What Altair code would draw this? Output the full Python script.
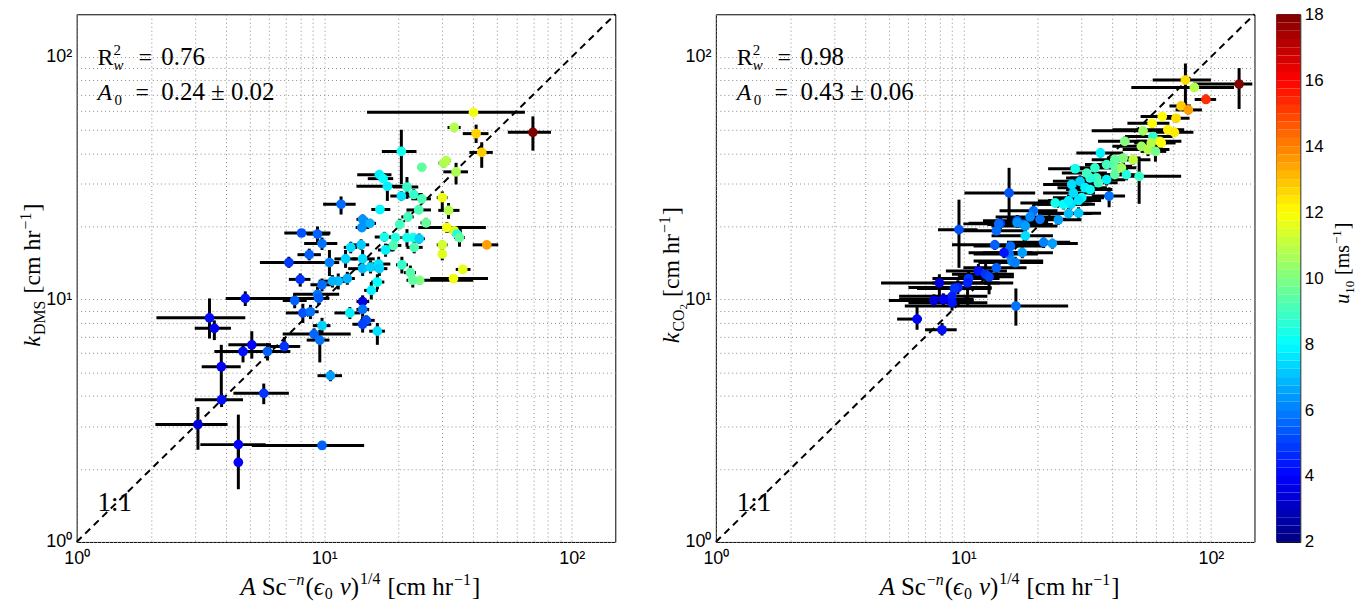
import altair as alt
import pandas as pd
import numpy as np

SERIF = "Liberation Serif"
SANS = "Liberation Sans"

# ---------------- DMS panel (left) ----------------
dms_x = [40.1, 33.5, 41.1, 69.7, 43.3, 20.5, 24.8, 30.4, 31.1, 34.1, 16.7, 17.3, 18.0, 20.5, 21.6, 23.0, 24.8, 30.0, 31.8, 16.8,
         24.1, 21.8, 25.8, 11.7, 14.3, 14.2, 15.3, 20.2, 31.3, 33.5, 34.4, 35.2, 45.4, 8.1, 9.4, 9.8, 17.5, 19.4, 21.6, 22.9,
         24.2, 19.0, 23.1, 17.7, 30.0, 30.0, 8.7, 7.2, 10.5, 12.2, 12.8, 14.1, 14.3, 14.3, 15.4, 16.6, 16.7, 20.6, 22.3, 24.3,
         22.8, 33.3, 36.3, 16.4, 15.5, 11.4, 10.8, 12.4, 9.8, 9.4, 9.5, 7.6, 4.8, 14.3, 14.3, 12.7, 14.8, 14.3, 16.4, 9.8,
         9.1, 9.6, 6.9, 10.6, 8.2, 8.8, 8.0, 3.44, 3.6, 5.1, 4.7, 5.9, 3.84, 3.85, 5.7, 3.09, 4.5, 9.8, 4.5]
dms_y = [59.1, 51.2, 48.3, 48.9, 40.4, 40.8, 35.1, 36.5, 37.4, 33.6, 32.7, 31.5, 29.3, 26.7, 29.1, 27.1, 26.0, 26.3, 23.3, 23.5,
         23.4, 21.9, 20.7, 24.7, 21.4, 19.8, 20.6, 20.4, 19.8, 19.2, 18.6, 18.0, 16.8, 18.8, 18.6, 17.0, 18.1, 18.0, 18.0, 18.0,
         17.8, 16.7, 16.4, 16.0, 16.8, 15.4, 15.3, 14.2, 14.2, 14.7, 16.4, 16.8, 14.7, 13.4, 13.6, 14.0, 13.4, 13.9, 12.9, 12.0,
         12.0, 12.2, 13.3, 11.8, 10.9, 11.9, 11.9, 12.2, 11.5, 10.5, 10.1, 9.9, 10.1, 9.8, 9.1, 8.8, 8.2, 7.9, 7.4, 7.8,
         7.2, 6.8, 6.4, 4.85, 8.8, 8.9, 12.1, 8.4, 7.6, 6.5, 6.1, 6.1, 5.28, 3.86, 4.1, 3.05, 2.52, 2.5, 2.13]
dms_xlo = [14.9, 31.5, 36.3, 55.2, 38.6, 17.1, 23.8, 29.0, 30.0, 30.3, 13.6, 15.0, 13.5, 18.5, 19.0, 21.0, 22.5, 28.5, 28.9, 15.5,
           21.5, 20.5, 24.5, 9.9, 13.5, 13.4, 14.5, 19.5, 24.0, 31.0, 33.0, 33.5, 39.8, 6.9, 8.5, 8.3, 16.0, 18.4, 20.5, 21.5,
           23.0, 17.5, 21.5, 16.5, 28.5, 29.0, 7.8, 5.5, 9.5, 11.0, 12.0, 13.0, 13.0, 12.5, 14.0, 15.0, 15.5, 19.5, 21.0, 22.0,
           21.5, 26.8, 34.0, 15.5, 14.5, 10.5, 9.5, 11.5, 8.8, 7.5, 8.5, 6.8, 4.0, 13.5, 13.5, 11.0, 14.0, 13.0, 15.2, 9.0,
           6.8, 8.5, 6.0, 9.4, 7.0, 8.0, 7.2, 2.1, 3.0, 4.1, 3.6, 5.3, 3.2, 3.0, 4.3, 2.08, 3.16, 5.1, 4.4]
dms_xhi = [64.7, 35.6, 46.1, 82.5, 48.0, 23.6, 25.8, 32.0, 32.5, 38.1, 18.7, 19.0, 21.5, 23.5, 24.0, 25.0, 27.0, 31.5, 35.2, 18.5,
           27.0, 23.0, 27.0, 13.4, 15.0, 15.2, 16.2, 21.0, 45.0, 36.0, 36.0, 37.0, 50.5, 10.6, 10.5, 11.3, 19.0, 20.4, 23.0, 25.0,
           25.5, 20.5, 25.0, 19.0, 31.5, 31.0, 9.7, 9.8, 11.5, 13.5, 13.6, 15.2, 16.0, 16.0, 17.0, 18.5, 18.0, 21.8, 23.5, 40.0,
           24.0, 45.9, 39.0, 17.5, 16.5, 12.3, 12.5, 13.3, 10.8, 11.5, 10.5, 8.5, 9.2, 15.2, 15.2, 14.0, 16.0, 15.5, 17.6, 10.6,
           12.8, 10.5, 8.0, 11.8, 9.0, 9.5, 8.8, 4.8, 4.2, 6.1, 7.3, 6.6, 4.6, 4.7, 7.2, 4.07, 5.8, 14.5, 4.6]
dms_ylo = [57.0, 49.0, 44.2, 41.1, 34.9, 29.9, 34.0, 35.0, 36.0, 29.8, 31.5, 30.5, 25.5, 25.5, 26.0, 26.0, 25.0, 23.5, 21.5, 22.5,
           22.5, 21.0, 19.8, 22.4, 20.5, 19.0, 19.8, 19.5, 18.8, 18.5, 17.5, 16.5, 16.3, 18.2, 17.0, 16.0, 17.3, 17.2, 16.5, 17.3,
           17.0, 15.8, 15.5, 15.0, 16.0, 14.5, 14.5, 13.5, 12.5, 13.5, 15.5, 16.0, 13.5, 12.5, 12.8, 13.0, 12.5, 12.8, 12.0, 11.5,
           11.2, 11.7, 12.8, 11.0, 10.0, 11.0, 11.2, 11.5, 10.8, 9.8, 9.5, 9.2, 9.4, 9.2, 8.5, 8.3, 7.8, 7.3, 6.5, 7.2,
           6.8, 5.5, 6.0, 4.6, 8.0, 8.3, 11.3, 6.9, 6.8, 5.7, 5.5, 5.6, 3.85, 3.6, 3.7, 2.4, 2.2, 2.45, 1.65]
dms_yhi = [61.0, 53.0, 52.6, 56.9, 44.5, 50.1, 36.0, 38.0, 39.0, 36.6, 34.0, 33.0, 30.5, 28.0, 32.0, 28.5, 27.0, 27.9, 25.0, 24.5,
           24.5, 23.0, 21.7, 26.6, 22.4, 20.8, 21.5, 21.5, 20.8, 20.0, 19.5, 19.5, 17.3, 19.4, 20.0, 18.0, 19.0, 18.8, 19.5, 18.8,
           18.7, 17.5, 17.3, 17.0, 17.5, 16.3, 16.2, 15.0, 16.0, 16.0, 17.3, 17.7, 16.0, 14.3, 14.5, 15.0, 14.3, 15.0, 13.8, 12.5,
           12.8, 12.7, 13.8, 12.7, 11.8, 12.8, 12.6, 13.0, 12.2, 11.3, 10.7, 10.6, 10.8, 10.4, 9.7, 9.3, 8.6, 8.5, 8.0, 8.4,
           7.6, 7.5, 7.0, 5.1, 9.6, 9.5, 12.8, 10.1, 8.2, 7.4, 6.5, 6.6, 6.5, 4.1, 4.5, 3.6, 3.35, 2.55, 2.5]
dms_u = [11.8, 10.8, 12.7, 18.0, 12.8, 8.3, 9.5, 10.6, 10.8, 10.7, 7.8, 8.0, 7.8, 7.6, 8.8, 8.8, 9.2, 11.7, 10.8, 7.9,
         9.2, 9.0, 9.6, 5.7, 6.3, 6.3, 6.8, 9.0, 11.8, 11.5, 8.5, 9.5, 13.5, 5.3, 5.5, 5.8, 8.3, 8.5, 8.3, 8.3,
         7.3, 9.2, 9.2, 7.8, 11.3, 11.5, 5.5, 4.9, 6.0, 7.3, 7.5, 7.2, 7.5, 7.0, 7.3, 7.6, 7.3, 8.8, 9.3, 10.0,
         9.5, 11.8, 11.6, 8.0, 7.8, 7.0, 6.8, 6.8, 5.7, 5.8, 5.5, 5.5, 4.3, 3.5, 5.8, 7.8, 5.2, 5.0, 7.5, 7.3,
         5.6, 5.8, 4.8, 6.5, 5.3, 5.8, 4.8, 4.2, 3.8, 4.0, 4.2, 5.5, 4.0, 4.2, 4.8, 3.5, 4.0, 5.5, 4.0]

# ---------------- CO2 panel (right) ----------------
co2_x = [130, 78.9, 85.7, 95.5, 75.8, 81.1, 63.6, 72.3, 57.9, 67.0, 71.2, 53.2, 58.3, 62.1, 52.4, 55.7, 59.7, 63.0, 57.4, 44.9,
         48.5, 44.2, 40.9, 40.9, 43.5, 45.6, 40.9, 51.3, 35.8, 28.3, 34.0, 37.9, 34.5, 37.9, 35.1, 32.5, 31.5, 27.4, 29.6, 31.0,
         32.5, 27.8, 30.1, 29.2, 27.2, 38.8, 23.5, 25.4, 26.6, 26.6, 29.2, 24.2, 19.2, 18.6, 20.4, 16.5, 17.5, 14.1, 15.3, 13.9,
         13.6, 13.4, 15.5, 17.3, 15.3, 15.7, 16.2, 14.6, 17.8, 16.5, 17.8, 21.1, 22.9, 9.6, 8.0, 10.5, 11.5, 12.3, 12.7, 13.6,
         9.5, 9.2, 10.4, 9.0, 9.0, 8.3, 7.6, 6.5, 8.2, 16.3]
co2_y = [77.3, 80.3, 74.8, 66.8, 62.8, 60.5, 56.8, 55.9, 53.3, 50.1, 48.9, 49.6, 47.0, 44.9, 42.8, 41.5, 40.8, 44.2, 44.2, 44.9,
         37.7, 38.3, 37.7, 35.4, 34.9, 32.7, 32.7, 32.2, 40.2, 34.6, 34.9, 36.0, 31.7, 31.2, 30.3, 31.7, 33.2, 29.8, 30.7, 28.9,
         28.4, 27.5, 26.3, 25.6, 24.7, 26.7, 25.0, 24.7, 25.5, 22.6, 22.7, 21.3, 23.2, 21.9, 21.4, 21.1, 20.4, 20.6, 27.5, 20.5,
         19.2, 16.8, 16.6, 15.6, 15.4, 14.4, 14.2, 15.6, 18.3, 20.7, 20.1, 17.2, 17.0, 19.4, 11.7, 12.2, 13.1, 12.7, 12.4, 13.5,
         11.2, 11.1, 11.7, 10.3, 9.7, 10.0, 9.9, 8.3, 7.5, 9.4]
co2_xlo = [85, 58.2, 47.7, 86, 68, 72, 52, 64, 46, 40, 60, 33, 45, 50, 40, 44, 52, 55, 49, 35,
           40, 38, 33, 34, 35, 38, 34, 44.2, 28.6, 22, 27, 31, 27, 31, 28, 26, 25, 21, 23, 24,
           26, 21, 23, 22, 20, 33, 17, 19, 20, 20, 22, 18, 14, 13.5, 15, 12, 12.5, 10.5, 10.1, 10,
           9.5, 9, 11, 12, 11, 11, 11.5, 10.5, 13, 12, 13, 15, 17, 7.9, 4.65, 7.5, 8.5, 9, 9.5, 10,
           6, 6.5, 7.5, 5.5, 6, 5.5, 5, 5.4, 7.0, 5.8]
co2_xhi = [147, 100, 124, 105, 83, 92, 75, 82, 68, 78, 85, 65, 70, 76, 64, 68, 66, 72, 66, 55,
           57, 52, 48, 48, 50, 52, 48, 75.8, 44.2, 34, 41, 45, 42, 45, 42, 39, 38, 34, 36, 38,
           40, 34, 37, 36, 34, 45, 29, 32, 33, 33, 36, 30, 24, 24, 26, 22, 23, 19, 19.5, 18,
           18, 18, 21, 23, 20, 21, 21, 19, 23, 22, 24, 27, 29, 11.4, 15.9, 14, 15, 16, 16, 18,
           13, 13, 14, 12.5, 12.5, 11, 11, 6.8, 9.4, 26.5]
co2_ylo = [61, 62, 72, 64, 60.5, 58, 54.5, 53.5, 51, 48, 47, 47.5, 45, 43, 41, 39, 37, 42.5, 42.5, 43,
           36, 36.5, 36, 33.5, 33, 31, 31, 24.8, 38.5, 33, 33.5, 34.5, 30, 29.5, 28.5, 30, 31.5, 28.5, 29, 27.5,
           27, 26, 25, 24.5, 23.5, 24, 24, 23.5, 24.5, 21.5, 21.5, 20.3, 22, 21, 20.3, 20, 19.5, 19.5, 20.4, 19.5,
           18.2, 16, 15.8, 14.8, 14.6, 13.7, 13.4, 14.8, 17.4, 19.7, 19, 16.3, 16.2, 13.5, 10.2, 11.2, 12.3, 11.5, 10.5, 12.5,
           10.5, 10.4, 9.5, 9.6, 9, 9.4, 9.3, 7.5, 7.1, 7.8]
co2_yhi = [90, 94, 78, 70, 65, 63, 59, 58, 55.5, 52, 51, 51.5, 49, 47, 44.5, 44, 44, 46, 46, 47,
           39.5, 40, 39.5, 37, 36.5, 34.5, 34.5, 37.2, 42, 36, 36.5, 37.5, 33.5, 33, 32, 33.5, 35, 31, 32.5, 30.5,
           30, 29, 27.5, 27, 26, 29, 26, 26, 27, 23.8, 24, 22.3, 24.5, 23, 22.5, 22.3, 21.5, 21.7, 34.9, 21.5,
           20.3, 17.6, 17.4, 16.4, 16.2, 15.2, 15, 16.4, 19.2, 21.7, 21.2, 18, 17.8, 25.8, 12.7, 13.2, 14, 14, 13.3, 14.5,
           12, 11.8, 12.5, 11, 10.4, 10.6, 10.5, 9.3, 8.0, 11.1]
co2_u = [18.0, 12.5, 10.8, 15.3, 12.8, 13.5, 12.0, 12.5, 12.0, 12.2, 12.3, 10.5, 8.8, 11.5, 10.5, 10.8, 9.8, 12.0, 10.8, 10.0,
         11.0, 10.0, 9.5, 9.5, 10.5, 8.5, 9.5, 8.8, 7.8, 8.3, 8.8, 9.0, 9.0, 7.8, 9.0, 8.5, 9.0, 7.5, 7.3, 7.8,
         8.0, 7.5, 8.0, 7.6, 7.5, 5.8, 8.3, 8.0, 7.8, 7.0, 7.2, 6.5, 5.8, 6.2, 5.8, 5.5, 5.8, 4.8, 5.3, 5.7,
         5.7, 5.5, 5.7, 6.5, 5.8, 6.2, 6.0, 4.3, 7.5, 6.3, 6.5, 6.0, 6.5, 5.3, 3.5, 4.8, 4.3, 4.8, 5.0, 5.5,
         4.5, 4.8, 4.5, 4.5, 4.3, 3.8, 3.5, 4.0, 4.2, 5.8]

# jet colormap (piecewise) and colourbar levels
jet_domain = [2, 4, 8, 12, 16, 18]
jet_range = ["#00007f", "#0000ff", "#00ffff", "#ffff00", "#ff0000", "#7f0000"]
cbar_edges = list(np.linspace(2, 18, 65))
cbar_ticks = [2, 4, 6, 8, 10, 12, 14, 16, 18]
log_ticks = [1, 2, 3, 4, 5, 6, 7, 8, 9, 10, 20, 30, 40, 50, 60, 70, 80, 90, 100]
diag_vals = [1, 150]

W, H = 541, 530

color_scale = alt.Scale(domain=jet_domain, range=jet_range, interpolate="rgb")

# Times-like advance widths (per 1000 em)
TW = {' ': 250, '[': 333, ']': 333, 'c': 444, 'm': 778, 'h': 500, 'r': 333, 'k': 444, 'D': 722, 'M': 889,
      'S': 556, 'C': 667, 'O': 722, '−': 564, '=': 564, '.': 250, '±': 549, 'A': 611, 'R': 667, 'w': 667,
      'u': 500, ':': 278, 'ϵ': 439, 'ν': 444, '(': 333, ')': 333, 'n': 500, '/': 278, 's': 389}


def tw(s, size):
    return sum(TW.get(ch, 500) for ch in s) * size / 1000.0


def txt(text, x, y, size, style="normal", angle=0):
    return alt.Chart(pd.DataFrame({"t": [text]})).mark_text(
        align="left", baseline="alphabetic", font=SERIF, fontSize=size,
        fontStyle=style, angle=angle, color="black"
    ).encode(x=alt.value(x), y=alt.value(y), text="t:N")


def rich(pieces, x0, y0, angle=0):
    """pieces: (text, size, style, shift, gap_before)"""
    out = []
    pos = 0.0
    for text, size, style, shift, gap in pieces:
        pos += gap
        if angle == 0:
            x, y = x0 + pos, y0 - shift
        else:
            x, y = x0 - shift, y0 - pos
        out.append(txt(text, x, y, size, style, angle))
        pos += tw(text, size)
    return out


def rich_len(pieces):
    return sum(g + tw(t, s) for t, s, _, _, g in pieces)


label_expr = "datum.value == 1 ? '10⁰' : datum.value == 10 ? '10¹' : datum.value == 100 ? '10²' : ''"


def log_scale():
    return alt.Scale(type="log", domain=[1, 150], nice=False, clamp=True)


def ax(orient):
    return alt.Axis(values=log_ticks, labelExpr=label_expr, grid=True, gridDash=[1, 3],
                    gridColor="#8c8c8c", gridWidth=1, ticks=False, domain=False, title=None,
                    labelFont=SANS, labelFontSize=18, labelColor="black",
                    labelPadding=8 if orient == "bottom" else 5,
                    labelOverlap=False, labelFlush=False, orient=orient)


def X(field):
    return alt.X(field, type="quantitative", scale=log_scale(), axis=ax("bottom"))


def Y(field):
    return alt.Y(field, type="quantitative", scale=log_scale(), axis=ax("left"))


XT_MAIN, XT_SMALL = 25, 16
xtitle = [("A", XT_MAIN, "italic", 0, 0), ("Sc", XT_MAIN, "normal", 0, 6),
          ("−", XT_SMALL, "normal", 10, 1), ("n", XT_SMALL, "italic", 10, 0),
          ("(", XT_MAIN, "normal", 0, 1), ("ϵ", XT_MAIN, "italic", 0, 0),
          ("0", XT_SMALL, "normal", -4, 0), ("ν", XT_MAIN, "italic", 0, 7),
          (")", XT_MAIN, "normal", 0, 0), ("1/4", XT_SMALL, "normal", 11, 1),
          ("[cm hr", XT_MAIN, "normal", 0, 7), ("−1", XT_SMALL, "normal", 10, 1),
          ("]", XT_MAIN, "normal", 0, 1)]


def panel(x, y, xlo, xhi, ylo, yhi, u, sub_pieces, r2, a0):
    df = pd.DataFrame({"x": x, "y": y, "xlo": xlo, "xhi": xhi, "ylo": ylo, "yhi": yhi, "u": u})
    base = alt.Chart(df)
    xerr = base.mark_rule(color="black", strokeWidth=3).encode(x=X("xlo"), x2="xhi", y=Y("y"))
    yerr = base.mark_rule(color="black", strokeWidth=3).encode(x=X("x"), y=Y("ylo"), y2="yhi")
    diag = alt.Chart(pd.DataFrame({"d": diag_vals})).mark_line(
        color="black", strokeWidth=2, strokeDash=[7, 5]).encode(x=X("d"), y=Y("d"))
    pts = base.mark_circle(size=95, opacity=1).encode(
        x=X("x"), y=Y("y"), color=alt.Color("u:Q", scale=color_scale, legend=None))
    ann = [
        txt("R", 21, 51, 24),
        txt("2", 37, 41, 15),
        txt("w", 37, 56, 15, "italic"),
        txt("=", 62, 51, 24),
        txt(r2, 85, 51, 25),
        txt("A", 21, 86, 24, "italic"),
        txt("0", 38, 91, 15),
        txt("=", 59, 86, 24),
        txt(a0, 85, 86, 25),
        txt("1:1", 21, 499, 27),
    ]
    # x title
    L = rich_len(xtitle)
    ann += rich(xtitle, 285 - L / 2, 583)
    # y title (rotated, reading upwards)
    yt = [("k", 24, "italic", 0, 0)] + sub_pieces + [
        ("[cm hr", 24, "normal", 0, 7), ("−1", 16, "normal", 9, 1), ("]", 24, "normal", 0, 1)]
    Ly = rich_len(yt)
    ann += rich(yt, -37, 262 + Ly / 2, angle=270)
    return alt.layer(xerr, yerr, diag, pts, *ann).properties(width=W, height=H)


left = panel(dms_x, dms_y, dms_xlo, dms_xhi, dms_ylo, dms_yhi, dms_u,
             [("DMS", 16, "normal", -5, 1)], "0.76", "0.24 ± 0.02")
right = panel(co2_x, co2_y, co2_xlo, co2_xhi, co2_ylo, co2_yhi, co2_u,
              [("CO", 16, "normal", -5, 1), ("2", 11, "normal", -8, 0)], "0.98", "0.43 ± 0.06")

# colourbar
cb = pd.DataFrame({"lo": cbar_edges[:-1], "hi": cbar_edges[1:]})
cb["mid"] = (cb["lo"] + cb["hi"]) / 2
cbar_rect = alt.Chart(cb).mark_rect().encode(
    x=alt.value(0), x2=alt.value(24),
    y=alt.Y("lo:Q", scale=alt.Scale(domain=[2, 18], nice=False, zero=False),
            axis=alt.Axis(orient="right", values=cbar_ticks, ticks=False, domain=False, grid=False,
                          title=None, labelFont=SANS, labelFontSize=17, labelColor="black",
                          labelPadding=4, labelFlush=False)),
    y2="hi:Q",
    color=alt.Color("mid:Q", scale=color_scale, legend=None),
)
ct = [("u", 20, "italic", 0, 0), ("10", 13, "normal", -5, 0), ("[ms", 20, "normal", 0, 6),
      ("−1", 13, "normal", 8, 1), ("]", 20, "normal", 0, 1)]
Lc = rich_len(ct)
cbar = alt.layer(cbar_rect, *rich(ct, 73, 250 + Lc / 2, angle=270)).properties(width=24, height=H)

inner = alt.hconcat(left, right, spacing=101, bounds="flush")
chart = alt.hconcat(inner, cbar, spacing=16, bounds="full").properties(
    padding={"left": 17, "top": 3, "right": 5, "bottom": 5}
).configure_view(stroke="black", strokeWidth=1).resolve_scale(color="shared")

chart.save("out.html", embed_options={"renderer": "svg", "actions": False})
